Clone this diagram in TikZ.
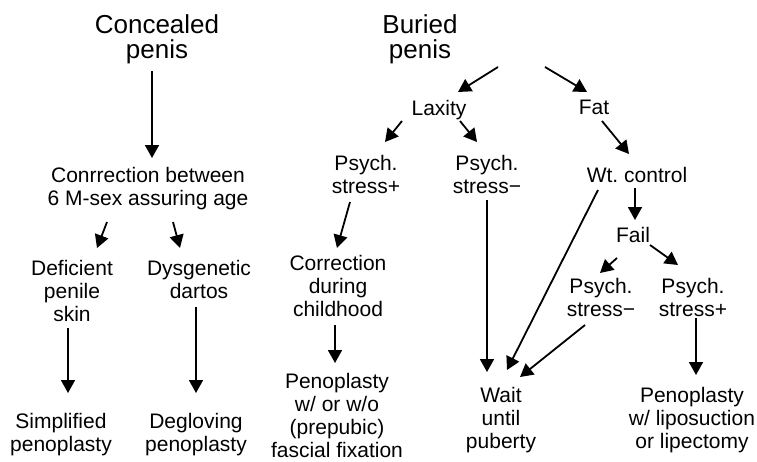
\documentclass[tikz,border=0pt]{standalone}
\usepackage{fontspec}
\setmainfont{Liberation Sans}
\usetikzlibrary{arrows.meta,calc}
\frenchspacing
\begin{document}
\begin{tikzpicture}[x=1pt,y=-1pt,
  lbl/.style={anchor=north,inner sep=0pt,outer sep=0pt,align=center,font=\fontsize{21}{23}\selectfont},
  big/.style={lbl,font=\fontsize{26}{25}\selectfont},
  arr/.style={line width=1.8pt,-{Triangle[length=13pt,width=14pt]}}]
\useasboundingbox[fill=white] (0,0) rectangle (757,461);
% left tree
\node[big] (con) at (157,15) {Concealed\\penis};
\node[lbl] (cor) at (148,167) {Conrrection between\\6 M-sex assuring age};
\node[lbl] (def) at (72,260) {Deficient\\penile\\skin};
\node[lbl] (dys) at (199,260) {Dysgenetic\\dartos};
\node[lbl] (sim) at (61,413) {Simplified\\penoplasty};
\node[lbl] (deg) at (196,413) {Degloving\\penoplasty};
% right tree
\node[big] (bur) at (420,15) {Buried\\penis};
\node[lbl] (lax) at (439,100) {Laxity};
\node[lbl] (fat) at (594,100) {Fat};
\node[lbl] (ps1) at (366,155) {Psych.\\stress+};
\node[lbl] (ps2) at (487,155) {Psych.\\stress−};
\node[lbl] (wt) at (637,167) {Wt. control};
\node[lbl] (fail) at (633,227) {Fail};
\node[lbl] (ps3) at (601,278) {Psych.\\stress−};
\node[lbl] (ps4) at (693,278) {Psych.\\stress+};
\node[lbl] (cc) at (338,255) {Correction\\during\\childhood};
\node[lbl] (pen1) at (337,373) {Penoplasty\\w/ or w/o\\(prepubic)\\fascial fixation};
\node[lbl] (wait) at (501,387) {Wait\\until\\puberty};
\node[lbl] (pen2) at (692,387) {Penoplasty\\w/ liposuction\\or lipectomy};
% connectors
\draw[arr] ($(con.north)+(-5,56)$) -- ($(cor.north)+(4,-9)$);
\draw[arr] ($(cor.north)+(-41,55)$) -- ($(def.north)+(25,-12)$);
\draw[arr] ($(cor.north)+(25,55)$) -- ($(dys.north)+(-19,-12)$);
\draw[arr] ($(def.north)+(-4,68)$) -- ($(sim.north)+(7,-20)$);
\draw[arr] ($(dys.north)+(-3,47)$) -- ($(deg.north)+(0,-20)$);
\draw[arr] ($(bur.north)+(78,52)$) -- ($(lax.north)+(19,-8)$);
\draw[arr] ($(bur.north)+(125,52)$) -- ($(fat.north)+(-7,-8)$);
\draw[arr] ($(lax.north)+(-37,21)$) -- ($(ps1.north)+(19,-13)$);
\draw[arr] ($(lax.north)+(21,21)$) -- ($(ps2.north)+(-10,-13)$);
\draw[arr] ($(fat.north)+(8,21)$) -- ($(wt.north)+(-8,-13)$);
\draw[arr] ($(ps1.north)+(-16,47)$) -- ($(cc.north)+(-1,-7)$);
\draw[arr] ($(cc.north)+(-3,70)$) -- ($(pen1.north)+(-2,-10)$);
\draw[arr] ($(ps2.north)+(0,45)$) -- ($(wait.north)+(-14,-15)$);
\draw[arr] ($(wt.north)+(-39,23)$) -- ($(wait.north)+(6,-17)$);
\draw[arr] ($(wt.north)+(-2,21)$) -- ($(fail.north)+(2,-7)$);
\draw[arr] ($(fail.north)+(-16,31)$) -- ($(ps3.north)+(-1,-5)$);
\draw[arr] ($(fail.north)+(17,18)$) -- ($(ps4.north)+(-15,-13)$);
\draw[arr] ($(ps3.north)+(-16,47)$) -- ($(wait.north)+(19,-10)$);
\draw[arr] ($(ps4.north)+(3,40)$) -- ($(pen2.north)+(4,-12)$);
\end{tikzpicture}
\end{document}
